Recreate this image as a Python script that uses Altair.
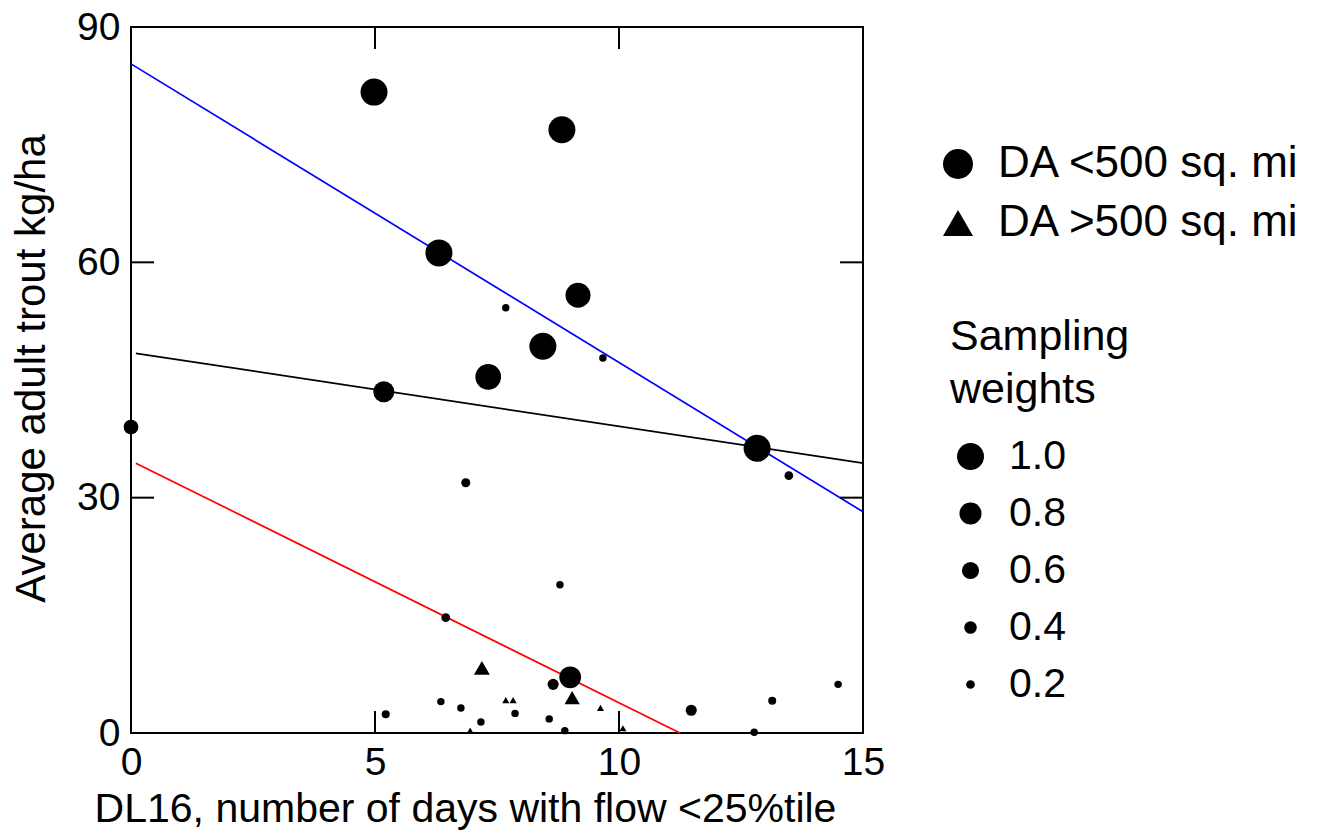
import altair as alt
import pandas as pd

FONT = "Liberation Sans"

# circles: DA <500 sq. mi
c_x = [0.0, 4.98, 8.83, 6.31, 9.16, 7.68, 8.44, 9.67, 7.32, 5.18, 12.83, 13.48, 6.86,
       8.79, 6.45, 9.0, 8.65, 6.35, 6.76, 5.22, 7.87, 7.17, 8.57, 8.89, 11.48, 13.14,
       14.49, 12.77]
c_y = [39.0, 81.7, 76.9, 61.2, 55.8, 54.2, 49.3, 47.8, 45.4, 43.5, 36.3, 32.8, 31.9,
       18.9, 14.7, 7.1, 6.2, 4.0, 3.2, 2.4, 2.5, 1.4, 1.8, 0.3, 2.9, 4.1, 6.2, 0.1]
c_w = [0.5, 1.0, 1.0, 1.0, 0.92, 0.1, 1.0, 0.1, 0.95, 0.76, 1.0, 0.2, 0.22,
       0.1, 0.2, 0.79, 0.33, 0.1, 0.1, 0.15, 0.1, 0.1, 0.1, 0.1, 0.33, 0.15, 0.1, 0.1]
# triangles: DA >500 sq. mi
t_x = [7.19, 9.04, 7.68, 7.83, 9.62, 6.95, 10.08]
t_y = [8.3, 4.5, 4.2, 4.2, 3.2, 0.3, 0.6]
t_w = [0.55, 0.52, 0.05, 0.05, 0.05, 0.05, 0.05]

groups = ["DA <500 sq. mi", "DA >500 sq. mi"]

# fitted lines (endpoints)
line_series = ["blue", "blue", "black", "black", "red", "red"]
line_x = [0.0, 15.0, 0.1, 15.0, 0.1, 11.25]
line_y = [85.3, 28.2, 48.4, 34.4, 34.4, 0.0]

x_ticks = [5, 10]
y_ticks = [30, 60]
weights_legend = [1.0, 0.8, 0.6, 0.4, 0.2]

W, H = 732, 706

pts = pd.DataFrame({
    "x": c_x + t_x,
    "y": c_y + t_y,
    "w": c_w + t_w,
    "g": [groups[0]] * len(c_x) + [groups[1]] * len(t_x),
})
lines = pd.DataFrame({"s": line_series, "x": line_x, "y": line_y})

xs = alt.Scale(domain=[0, 15], nice=False, zero=False)
ys = alt.Scale(domain=[0, 90], nice=False, zero=False)

xaxis = alt.Axis(values=[0, 5, 10, 15], domain=False, ticks=False, grid=False,
                 labelFlush=False,
                 labelFont=FONT, labelFontSize=39, labelColor="black", labelPadding=10,
                 title="DL16, number of days with flow <25%tile", titleFont=FONT,
                 titleFontSize=41, titleFontWeight="normal", titleColor="black",
                 titleX=334, titleY=88, titleAlign="center", titleBaseline="alphabetic")
yaxis = alt.Axis(values=[0, 30, 60, 90], domain=False, ticks=False, grid=False,
                 labelFlush=False,
                 labelFont=FONT, labelFontSize=39, labelColor="black", labelPadding=11,
                 title="Average adult trout kg/ha", titleFont=FONT, titleFontSize=42,
                 titleFontWeight="normal", titleColor="black", titleX=-87, titleY=341,
                 titleAlign="center", titleBaseline="alphabetic", titleAngle=270)

line_layer = alt.Chart(lines).mark_line(strokeWidth=1.7).encode(
    x=alt.X("x:Q", scale=xs, axis=xaxis),
    y=alt.Y("y:Q", scale=ys, axis=yaxis),
    color=alt.Color("s:N", scale=alt.Scale(domain=["blue", "black", "red"],
                                           range=["#0000ff", "#000000", "#ff0000"]),
                    legend=None),
    detail="s:N",
)

point_layer = alt.Chart(pts).mark_point(filled=True, color="black", opacity=1,
                                        strokeWidth=0).encode(
    x=alt.X("x:Q", scale=xs),
    y=alt.Y("y:Q", scale=ys),
    shape=alt.Shape("g:N", scale=alt.Scale(domain=groups, range=["circle", "triangle-up"]),
                    legend=alt.Legend(title=None, orient="none", legendX=805, legendY=115,
                                      symbolSize=900, symbolFillColor="black",
                                      symbolStrokeWidth=0, labelFont=FONT, labelFontSize=44,
                                      labelColor="black", labelOffset=18, rowPadding=15,
                                      padding=0, labelLimit=400)),
    size=alt.Size("w:Q", scale=alt.Scale(type="pow", exponent=2, domain=[0.2, 1.0],
                                         range=[76, 729], zero=False),
                  legend=alt.Legend(title=["Sampling", "weights"], orient="none",
                                    legendX=819, legendY=289, values=weights_legend,
                                    format=".1f", symbolType="circle",
                                    symbolFillColor="black", symbolStrokeWidth=0,
                                    labelFont=FONT, labelFontSize=41, labelColor="black",
                                    labelOffset=18, rowPadding=15, padding=0,
                                    titleFont=FONT, titleFontSize=43,
                                    titleFontWeight="normal", titleColor="black",
                                    titleLineHeight=53, titlePadding=24, titleLimit=400)),
)

tx = pd.DataFrame({"v": x_ticks})
ty = pd.DataFrame({"v": y_ticks})
tick_b = alt.Chart(tx).mark_rule(color="black", strokeWidth=2).encode(
    x=alt.X("v:Q", scale=xs), y=alt.value(H), y2=alt.value(H - 22))
tick_t = alt.Chart(tx).mark_rule(color="black", strokeWidth=2).encode(
    x=alt.X("v:Q", scale=xs), y=alt.value(0), y2=alt.value(22))
tick_l = alt.Chart(ty).mark_rule(color="black", strokeWidth=2).encode(
    y=alt.Y("v:Q", scale=ys), x=alt.value(0), x2=alt.value(23))
tick_r = alt.Chart(ty).mark_rule(color="black", strokeWidth=2).encode(
    y=alt.Y("v:Q", scale=ys), x=alt.value(W), x2=alt.value(W - 23))

chart = alt.layer(line_layer, tick_b, tick_t, tick_l, tick_r, point_layer).properties(
    width=W, height=H,
    autosize=alt.AutoSizeParams(type="none"),
    padding={"left": 131, "top": 27, "right": 1318 - 131 - W, "bottom": 833 - 27 - H},
    background="white",
).configure_view(stroke="black", strokeWidth=2)

chart.save("out.html", embed_options={"renderer": "svg", "actions": False})
